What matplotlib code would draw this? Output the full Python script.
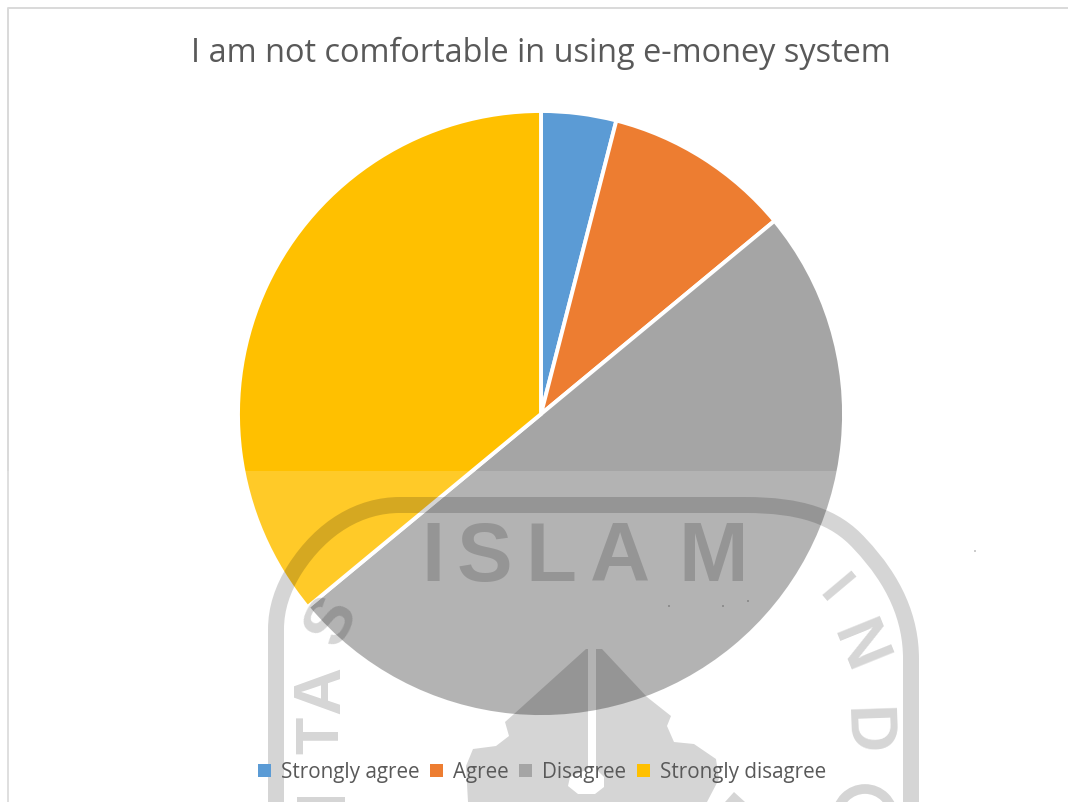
import matplotlib
matplotlib.use("Agg")
import matplotlib.pyplot as plt
from matplotlib.patches import Rectangle, Polygon, PathPatch, Circle, Ellipse
from matplotlib.path import Path

title = "I am not comfortable in using e-money system"
categories = ["Strongly agree", "Agree", "Disagree", "Strongly disagree"]
shares = [4, 10, 50, 36]
colors = ["#5B9BD5", "#ED7D31", "#A5A5A5", "#FFC000"]

W, H = 1068, 803
plt.rcParams["font.family"] = ["Open Sans", "DejaVu Sans"]
fig = plt.figure(figsize=(W / 100, H / 100), dpi=100, facecolor="white")


def px_axes(left, top, width, height):
    return fig.add_axes([left / W, 1 - (top + height) / H, width / W, height / H])


# page frame
page = fig.add_axes([0, 0, 1, 1], zorder=0)
page.set_xlim(0, W)
page.set_ylim(H, 0)
page.axis("off")
page.plot([7.5, 7.5, 1068], [H, 8.5, 8.5], color="#D9D9D9", lw=1.4)

# pie
ax = px_axes(541 - 303, 415 - 303, 606, 606)
ax.set_zorder(1)
wedges, _ = ax.pie(
    shares,
    colors=colors,
    startangle=90,
    counterclock=False,
    radius=1,
    wedgeprops={"edgecolor": "white", "linewidth": 2.8},
)
ax.set_xlim(-1.0, 1.0)
ax.set_ylim(-1.0, 1.0)
for w in wedges:
    w.set_clip_on(False)

fig.text(541 / W, 1 - 53 / H, title, ha="center", va="center", fontsize=23.4, color="#595959")

leg = fig.legend(
    wedges,
    categories,
    loc="center",
    bbox_to_anchor=(542 / W, 1 - 773 / H),
    ncols=4,
    frameon=False,
    fontsize=14.9,
    labelcolor="#595959",
    handlelength=0.62,
    handleheight=0.62,
    handletextpad=0.5,
    columnspacing=0.5,
    borderpad=0,
)
for h in leg.legend_handles:
    h.set_edgecolor("none")
    h.set_linewidth(0)

# paper watermark printed over the lower part of the page
wm = fig.add_axes([0, 0, 1, 1], zorder=5)
wm.set_xlim(0, W)
wm.set_ylim(H, 0)
wm.axis("off")
wm.patch.set_alpha(0)
wm.add_patch(Rectangle((0, 472), W, H - 472, fc="white", ec="none", alpha=0.16))

SEAL = dict(fc="black", ec="none", alpha=0.165)
INK = dict(color="black", alpha=0.165)

# outer arch of the seal
arch = Path(
    [
        (276, 803), (276, 630), (276, 600), (295, 570),
        (322, 528), (360, 506), (400, 506),
        (745, 506),
        (800, 506), (835, 517), (860, 545),
        (895, 582), (911, 620), (911, 660),
        (911, 803),
    ],
    [Path.MOVETO, Path.LINETO, Path.CURVE3, Path.CURVE3,
     Path.CURVE4, Path.CURVE4, Path.CURVE4,
     Path.LINETO,
     Path.CURVE4, Path.CURVE4, Path.CURVE4,
     Path.CURVE4, Path.CURVE4, Path.CURVE4,
     Path.LINETO],
)
wm.add_patch(PathPatch(arch, fc="none", ec="black", alpha=0.165, lw=11.5, capstyle="butt", joinstyle="round"))

# lettering inside the arch
for ch, x in zip("ISLAM", [433, 484, 551, 620, 713]):
    wm.text(x, 559, ch, ha="center", va="center", fontsize=60, family="Liberation Sans",
            fontweight="bold", **INK)
for ch, x, y, rot, size in [
    ("S", 333, 622, 62, 48),
    ("A", 322, 690, 90, 48),
    ("T", 323, 735, 90, 44),
    ("I", 833, 591, -50, 40),
    ("N", 856, 648, -68, 48),
    ("D", 863, 731, -88, 48),
]:
    wm.text(x, y, ch, ha="center", va="center", rotation=rot, fontsize=size,
            family="Liberation Sans", fontweight="bold", **INK)
wm.add_patch(Ellipse((865, 818), 56, 56, fc="none", ec="black", alpha=0.165, lw=7))
wm.add_patch(Rectangle((297, 798), 48, 5, **SEAL))

# central emblem with its thin stem and round foot cut out
emblem = [
    (586, 650), (514, 715), (505, 723), (509, 737), (496, 747), (473, 750),
    (466, 767), (468, 803), (707, 803), (719, 780), (716, 760), (694, 745),
    (674, 743), (667, 727), (671, 717), (647, 698), (602, 650), (596, 650),
    (596, 770), (604, 778), (604, 788), (595, 795), (578, 795), (568, 787),
    (570, 778), (588, 770), (588, 650),
]
wm.add_patch(Polygon(emblem, closed=True, **SEAL))
wm.add_patch(Polygon([(734, 793), (725, 803), (745, 803)], closed=True, **SEAL))
for cx, cy in [(669, 607), (723, 607), (748, 602), (975, 552)]:
    wm.add_patch(Circle((cx, cy), 1.0, fc="black", ec="none", alpha=0.25))

fig.savefig("out.png", dpi=100)
